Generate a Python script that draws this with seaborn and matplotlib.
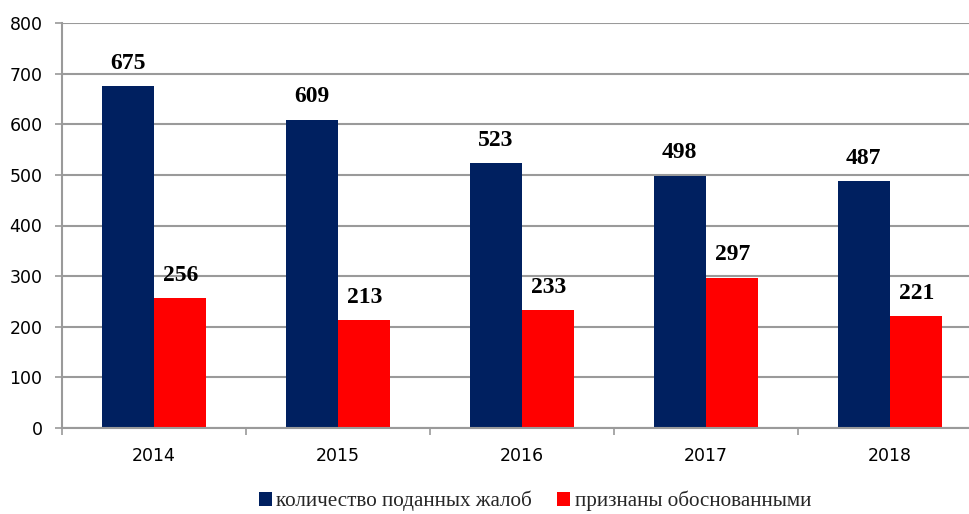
import matplotlib
matplotlib.use("Agg")
import matplotlib.pyplot as plt
import seaborn as sns
import pandas as pd
from matplotlib.patches import Patch
from matplotlib.ticker import MultipleLocator, FixedLocator

years = ["2014", "2015", "2016", "2017", "2018"]
filed = [675, 609, 523, 498, 487]
justified = [256, 213, 233, 297, 221]
series_names = ["количество поданных жалоб", "признаны обоснованными"]
colors = ["#002060", "#ff0000"]

df = pd.DataFrame({
    "year": years * 2,
    "value": filed + justified,
    "series": [series_names[0]] * len(years) + [series_names[1]] * len(years),
})

sns.set_theme(style="white")
plt.rcParams["font.family"] = ["DejaVu Sans"]

fig = plt.figure(figsize=(9.7, 5.14), dpi=100)
ax = fig.add_axes([62 / 970, 1 - 428 / 514, (982 - 62) / 970, (428 - 23) / 514])

sns.barplot(data=df, x="year", y="value", hue="series", palette=colors,
            width=0.57, gap=0, ax=ax, legend=False, saturation=1, errorbar=None,
            linewidth=0, edgecolor="none")

for cont in ax.containers:
    ax.bar_label(cont, padding=9, fontsize=17, fontweight="bold",
                 family="Liberation Serif", color="black")

ax.set_ylim(0, 800)
ax.set_xlim(-0.5, 4.5)
ax.yaxis.set_major_locator(MultipleLocator(100))
ax.grid(axis="y", color="#9a9a9a", linewidth=1.5)
ax.set_axisbelow(True)
ax.set_xlabel("")
ax.set_ylabel("")

for s in ["top", "right"]:
    ax.spines[s].set_visible(False)
for s in ["left", "bottom"]:
    ax.spines[s].set_color("#9a9a9a")
    ax.spines[s].set_linewidth(1.5)

ax.tick_params(axis="y", which="major", length=5, width=1.2, color="#9a9a9a",
               labelsize=12.5, pad=9, left=True, labelcolor="black")
ax.tick_params(axis="x", which="major", length=0, labelsize=12.5, pad=14,
               labelcolor="black")
ax.xaxis.set_minor_locator(FixedLocator([-0.5, 0.5, 1.5, 2.5, 3.5, 4.5]))
ax.tick_params(axis="x", which="minor", length=5, width=1.2, color="#9a9a9a",
               bottom=True)

handles = [Patch(facecolor=c, edgecolor="none") for c in colors]
fig.legend(handles, series_names, loc="center", bbox_to_anchor=(535 / 970, 1 - 501 / 514),
           ncol=2, frameon=False, prop={"family": "Liberation Serif", "size": 15.2},
           handlelength=0.62, handleheight=0.62, handletextpad=0.2, columnspacing=1.2,
           borderpad=0, borderaxespad=0)

fig.savefig("out.png", dpi=100)
